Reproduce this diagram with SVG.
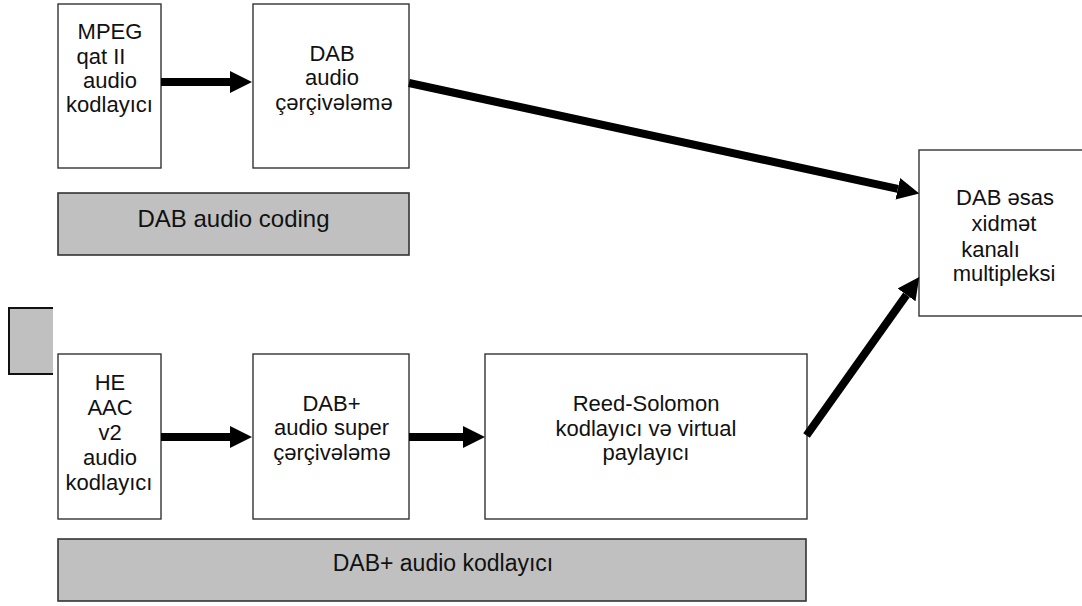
<svg xmlns="http://www.w3.org/2000/svg" width="1082" height="606" viewBox="0 0 1082 606">
<defs>
<style>
.box{fill:#fff;stroke:#333;stroke-width:1.4}
.gray{fill:#c0c0c0;stroke:#333;stroke-width:1.6}
.t{font-family:"Liberation Sans",Arial,sans-serif;font-size:22px;fill:#111;text-anchor:middle}
.g{font-family:"Liberation Sans",Arial,sans-serif;fill:#111;text-anchor:middle}
.c{stroke:#000;stroke-width:8;fill:none}
</style>
<marker id="ah" markerUnits="userSpaceOnUse" markerWidth="22" markerHeight="22" refX="0" refY="11" orient="auto" viewBox="0 0 22 22">
<path d="M0,0 L22,11 L0,22 z" fill="#000"/>
</marker>
</defs>
<rect width="1082" height="606" fill="#fff"/>

<g id="side-gray">
<rect x="9" y="308" width="44" height="66" fill="#c0c0c0"/>
<path d="M53,308 H9 V374 H53" fill="none" stroke="#111" stroke-width="2"/>
</g>

<g id="mpeg">
<rect class="box" x="58" y="4" width="103" height="164"/>
<text class="t" x="110" y="39">MPEG</text>
<text class="t" x="101" y="64">qat II</text>
<text class="t" x="110" y="88">audio</text>
<text class="t" x="109.5" y="112">kodlayıcı</text>
</g>

<g id="dab-framing">
<rect class="box" x="253" y="4" width="156" height="164"/>
<text class="t" x="332" y="61">DAB</text>
<text class="t" x="332" y="85">audio</text>
<text class="t" x="334" y="110">çərçivələmə</text>
</g>

<g id="dab-audio-coding">
<rect class="gray" x="58" y="193" width="351" height="62"/>
<text class="g" x="233.5" y="227" font-size="24">DAB audio coding</text>
</g>

<g id="he-aac">
<rect class="box" x="58" y="354" width="103" height="165"/>
<text class="t" x="110" y="390">HE</text>
<text class="t" x="110" y="415">AAC</text>
<text class="t" x="110" y="440">v2</text>
<text class="t" x="110" y="465">audio</text>
<text class="t" x="109" y="490">kodlayıcı</text>
</g>

<g id="dab-plus-framing">
<rect class="box" x="253" y="354" width="156" height="165"/>
<text class="t" x="331.5" y="411">DAB+</text>
<text class="t" x="331.5" y="435">audio super</text>
<text class="t" x="332" y="460">çərçivələmə</text>
</g>

<g id="reed-solomon">
<rect class="box" x="485" y="354" width="322" height="165"/>
<text class="t" x="646" y="411">Reed-Solomon</text>
<text class="t" x="646" y="436">kodlayıcı və virtual</text>
<text class="t" x="646" y="460">paylayıcı</text>
</g>

<g id="dab-plus-coding">
<rect class="gray" x="58" y="539" width="748" height="62"/>
<text class="g" x="443" y="571" font-size="23">DAB+ audio kodlayıcı</text>
</g>

<g id="multiplex">
<rect class="box" x="919" y="150" width="170" height="166"/>
<text class="t" x="1005" y="205">DAB əsas</text>
<text class="t" x="1004" y="231">xidmət</text>
<text class="t" x="990.5" y="257">kanalı</text>
<text class="t" x="1004" y="281">multipleksi</text>
</g>

<g id="connectors">
<line class="c" x1="161" y1="82" x2="230" y2="82" marker-end="url(#ah)"/>
<line class="c" x1="161" y1="437" x2="230" y2="437" marker-end="url(#ah)"/>
<line class="c" x1="409" y1="437" x2="463" y2="437" marker-end="url(#ah)"/>
<line class="c" x1="409" y1="83" x2="897.8" y2="188.8" marker-end="url(#ah)"/>
<line class="c" x1="806.5" y1="435.5" x2="906.5" y2="294.9" marker-end="url(#ah)"/>
</g>
</svg>
